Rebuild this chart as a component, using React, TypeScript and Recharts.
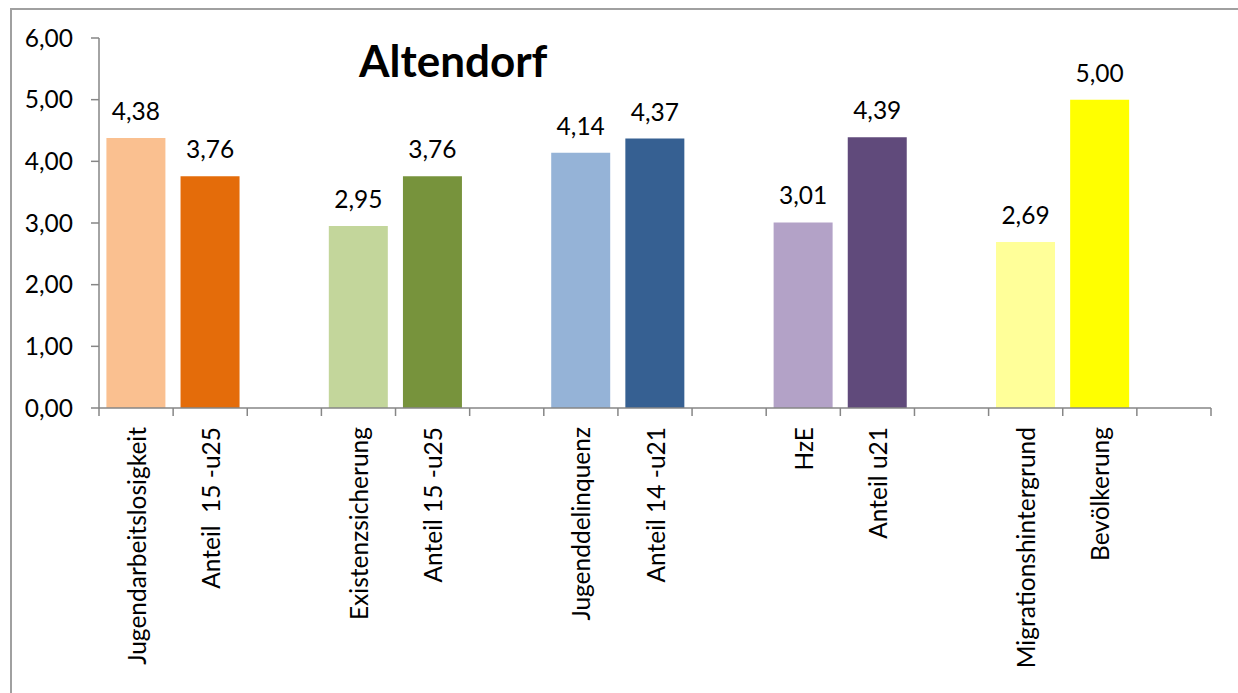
import { BarChart, Bar, XAxis, YAxis, Cell, LabelList } from 'recharts';

// categories incl. empty spacer slots between the pairs
const categories = [
  'Jugendarbeitslosigkeit',
  'Anteil  15 -u25',
  '',
  'Existenzsicherung',
  'Anteil 15 -u25',
  ' ',
  'Jugenddelinquenz',
  'Anteil 14 -u21',
  '  ',
  'HzE',
  'Anteil u21',
  '   ',
  'Migrationshintergrund',
  'Bevölkerung',
  '    ',
];

const values = [4.38, 3.76, null, 2.95, 3.76, null, 4.14, 4.37, null, 3.01, 4.39, null, 2.69, 5.0, null];

const barColors = [
  '#FAC090', '#E46C0A', '#FFFFFF',
  '#C3D69B', '#77933C', '#FFFFFF',
  '#95B3D7', '#366092', '#FFFFFF',
  '#B3A2C7', '#604A7B', '#FFFFFF',
  '#FFFF99', '#FFFF00', '#FFFFFF',
];

const yTicks = [0, 1, 2, 3, 4, 5, 6];

const data = categories.map((name, i) => ({ name, value: values[i] }));

const W = 1238;
const H = 693;
const M_LEFT = 0;
const Y_W = 99;
const M_RIGHT = 27;
const M_TOP = 38;
const PLOT_H = 370;
const PLOT_W = W - M_LEFT - Y_W - M_RIGHT;
const BAND = PLOT_W / categories.length;
const AXIS_GRAY = '#868686';
const FONT = 'Lato, "Open Sans", sans-serif';
const FS = 24.5;

const fmt = (v: number) => v.toFixed(2).replace('.', ',');

const CategoryTick = (props: any) => {
  const { x, y, payload, index } = props;
  const axisY = M_TOP + PLOT_H;
  const left = x - BAND / 2;
  return (
    <g>
      <line x1={left} y1={axisY} x2={left} y2={axisY + 8} stroke={AXIS_GRAY} strokeWidth={1.5} />
      {index === categories.length - 1 && (
        <line x1={left + BAND} y1={axisY} x2={left + BAND} y2={axisY + 8} stroke={AXIS_GRAY} strokeWidth={1.5} />
      )}
      <text
        transform={`translate(${x + 1}, ${y}) rotate(-90)`}
        textAnchor="end"
        dy="0.35em"
        fontSize={FS}
        fontFamily={FONT}
        fill="#000"
        style={{ whiteSpace: 'pre' }}
      >
        {payload.value.trim()}
      </text>
    </g>
  );
};

export default function App() {
  return (
    <div style={{ position: 'fixed', left: 0, top: 0, width: W, height: H, background: '#fff', overflow: 'hidden' }}>
      <div
        style={{
          position: 'absolute',
          left: 10,
          top: 8,
          width: W,
          height: H,
          borderLeft: '2px solid #A0A0A0',
          borderTop: '2px solid #A0A0A0',
        }}
      />
      <BarChart
        width={W}
        height={H}
        data={data}
        margin={{ top: M_TOP, right: M_RIGHT, bottom: 0, left: M_LEFT }}
        barCategoryGap="10%"
        style={{ position: 'absolute', left: 0, top: 0 }}
      >
        <XAxis
          dataKey="name"
          interval={0}
          height={H - M_TOP - PLOT_H}
          stroke={AXIS_GRAY}
          strokeWidth={1.5}
          tickLine={false}
          tickSize={8}
          tickMargin={11}
          tick={<CategoryTick />}
        />
        <YAxis
          width={Y_W}
          domain={[0, 6]}
          ticks={yTicks}
          tickFormatter={fmt}
          stroke={AXIS_GRAY}
          strokeWidth={1.5}
          tickSize={8}
          tickMargin={18}
          tick={{ fill: '#000', fontSize: FS, fontFamily: FONT }}
          interval={0}
        />
        <Bar dataKey="value" isAnimationActive={false}>
          {data.map((d, i) => (
            <Cell key={i} fill={barColors[i]} />
          ))}
          <LabelList
            dataKey="value"
            position="top"
            offset={18}
            formatter={(v: any) => (v == null ? '' : fmt(Number(v)))}
            style={{ fill: '#000', fontSize: FS, fontFamily: FONT }}
          />
        </Bar>
      </BarChart>
      <svg width={W} height={H} style={{ position: 'absolute', left: 0, top: 0, pointerEvents: 'none' }}>
        <text x={359} y={77} fontFamily={FONT} fontWeight="bold" fontSize={44} fill="#000">
          Altendorf
        </text>
      </svg>
    </div>
  );
}
